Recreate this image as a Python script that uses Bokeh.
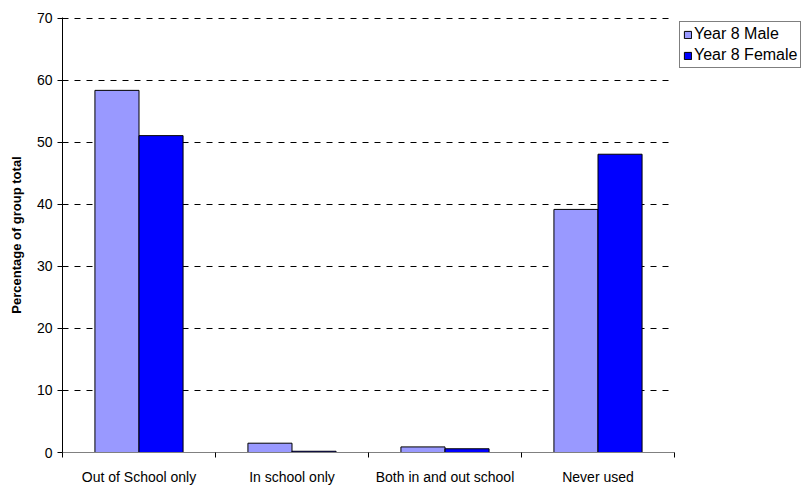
from bokeh.plotting import figure
from bokeh.models import ColumnDataSource, Range1d, FixedTicker, Legend, LegendItem
from bokeh.layouts import row
from bokeh.embed import file_html
from bokeh.resources import INLINE

categories = ["Out of School only", "In school only", "Both in and out school", "Never used"]
male = [58.4, 1.5, 0.9, 39.2]
female = [51.1, 0.2, 0.6, 48.1]
series_names = ["Year 8 Male", "Year 8 Female"]
y_ticks = [0, 10, 20, 30, 40, 50, 60, 70]
colors = ["#9999FF", "#0000FF"]

FONT = "Liberation Sans"
bw = 0.288
centers = [i + 0.5 for i in range(len(categories))]

src_m = ColumnDataSource(dict(x=[c - bw / 2 for c in centers], top=male))
src_f = ColumnDataSource(dict(x=[c + bw / 2 for c in centers], top=female))

p = figure(width=676, height=487, output_backend="svg", toolbar_location=None,
           x_range=Range1d(0, len(categories)), y_range=Range1d(0, 70.15))
p.min_border_left = 62
p.min_border_right = 2
p.min_border_top = 17
p.min_border_bottom = 31
p.outline_line_color = None
p.background_fill_color = "white"
p.border_fill_color = "white"

p.vbar(x="x", top="top", width=bw, bottom=0, source=src_m,
       fill_color=colors[0], line_color="black", line_width=1)
p.vbar(x="x", top="top", width=bw, bottom=0, source=src_f,
       fill_color=colors[1], line_color="black", line_width=1)

# x axis
p.xaxis.ticker = FixedTicker(ticks=centers, minor_ticks=list(range(len(categories) + 1)))
p.xaxis.major_label_overrides = {c: lab for c, lab in zip(centers, categories)}
p.xaxis.major_tick_line_color = None
p.xaxis.major_tick_out = 0
p.xaxis.major_tick_in = 0
p.xaxis.minor_tick_out = 5
p.xaxis.minor_tick_in = 0
p.xaxis.minor_tick_line_color = "black"
p.xaxis.axis_line_color = "#808080"
p.xaxis.major_label_standoff = 11
p.xaxis.major_label_text_font = FONT
p.xaxis.major_label_text_font_size = "14px"
p.xaxis.major_label_text_color = "black"
p.xgrid.grid_line_color = None

# y axis
p.yaxis.ticker = FixedTicker(ticks=y_ticks)
p.yaxis.minor_tick_line_color = None
p.yaxis.major_tick_out = 5
p.yaxis.major_tick_in = 0
p.yaxis.axis_line_color = "black"
p.yaxis.major_tick_line_color = "black"
p.yaxis.major_label_text_font = FONT
p.yaxis.major_label_text_font_size = "14px"
p.yaxis.major_label_text_color = "black"
p.yaxis.major_label_standoff = 5
p.yaxis.axis_label = "Percentage of group total"
p.yaxis.axis_label_text_font = FONT
p.yaxis.axis_label_text_font_size = "13px"
p.yaxis.axis_label_text_font_style = "bold"
p.yaxis.axis_label_text_color = "black"
p.yaxis.axis_label_standoff = 10
p.ygrid.grid_line_color = "black"
p.ygrid.grid_line_dash = "6 6"
p.ygrid.grid_line_width = 1

# legend panel
lg = figure(width=129, height=487, output_backend="svg", toolbar_location=None,
            x_range=Range1d(0, 1), y_range=Range1d(0, 1))
lg.min_border_left = 3
lg.min_border_top = 17
lg.min_border_right = 0
lg.min_border_bottom = 31
lg.axis.visible = False
lg.grid.visible = False
lg.outline_line_color = None
lm = lg.vbar(x=[5], top=[1], width=0.1, fill_color=colors[0], line_color="black")
lf = lg.vbar(x=[5], top=[1], width=0.1, fill_color=colors[1], line_color="black")

legend = Legend(items=[LegendItem(label=series_names[0], renderers=[lm]),
                       LegendItem(label=series_names[1], renderers=[lf])],
                location=(0, 384))
legend.label_text_font = FONT
legend.label_text_font_size = "16px"
legend.label_text_color = "black"
legend.glyph_width = 9
legend.glyph_height = 9
legend.label_standoff = 2
legend.label_height = 18
legend.spacing = 3
legend.padding = 3
legend.margin = 0
legend.border_line_color = "black"
legend.border_line_width = 1
legend.background_fill_alpha = 1
lg.add_layout(legend)

layout = row(p, lg)
open("out.html", "w").write(file_html(layout, INLINE))
